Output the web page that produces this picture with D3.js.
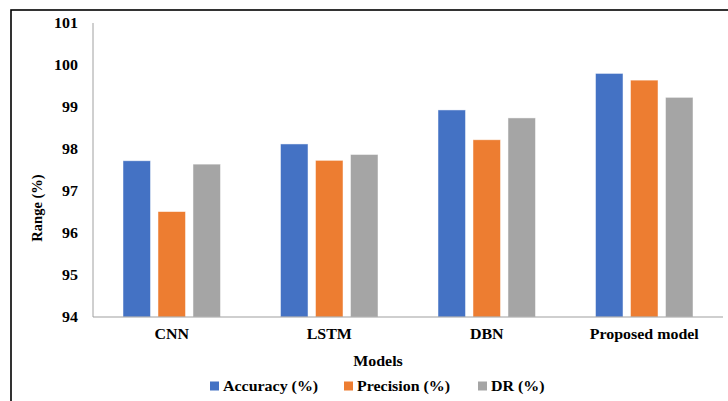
<!DOCTYPE html>
<html>
<head>
<meta charset="utf-8">
<script src="https://cdn.jsdelivr.net/npm/d3@7/dist/d3.min.js"></script>
<style>
  html, body { margin: 0; padding: 0; background: #fff; }
  svg { display: block; }
</style>
</head>
<body>
<svg id="chart" width="728" height="401"></svg>
<script>
// Model categories and metric series
const models = ["CNN", "LSTM", "DBN", "Proposed model"];
const seriesNames = ["Accuracy (%)", "Precision (%)", "DR (%)"];
const accuracy = [97.72, 98.12, 98.93, 99.80];
const precision = [96.51, 97.73, 98.22, 99.64];
const detectionRate = [97.64, 97.87, 98.74, 99.23];
const yTicks = [94, 95, 96, 97, 98, 99, 100, 101];
const colors = ["#4472C4", "#ED7D31", "#A5A5A5"];

const seriesValues = [accuracy, precision, detectionRate];
const rows = models.map((m, i) => ({
  model: m,
  values: seriesNames.map((s, j) => ({ series: s, value: seriesValues[j][i], color: colors[j] }))
}));

const FONT = "'Liberation Serif', 'Times New Roman', serif";
const svg = d3.select("#chart")
  .attr("font-family", FONT)
  .attr("font-weight", "bold");
const plot = { left: 93, right: 723, top: 23, bottom: 317 };
const stretch = 1.1; // horizontal text stretch

// outer frame
svg.append("rect")
  .attr("x", 11).attr("y", 10).attr("width", 740).attr("height", 420)
  .attr("fill", "none").attr("stroke", "#000").attr("stroke-width", 1.6);

const x0 = d3.scaleBand().domain(models).range([plot.left, plot.right]).paddingInner(0).paddingOuter(0);
const groupWidth = 97.5;
const x1 = d3.scaleBand().domain(seriesNames).range([0, groupWidth]).paddingInner(0.214).paddingOuter(0);
const y = d3.scaleLinear().domain([94, 101]).range([plot.bottom, plot.top]);

// bars
const groups = svg.append("g").selectAll("g").data(rows).join("g")
  .attr("transform", d => `translate(${x0(d.model) + (x0.bandwidth() - groupWidth) / 2},0)`);
groups.selectAll("rect").data(d => d.values).join("rect")
  .attr("x", d => x1(d.series))
  .attr("width", x1.bandwidth())
  .attr("y", d => y(d.value))
  .attr("height", d => y(94) - y(d.value))
  .attr("fill", d => d.color)
  .attr("stroke", "#fff").attr("stroke-opacity", 0.6).attr("stroke-width", 0.8);

// axis lines
svg.append("line").attr("x1", plot.left).attr("x2", plot.left)
  .attr("y1", y(101)).attr("y2", y(94)).attr("stroke", "#a0a0a0").attr("stroke-width", 1);
svg.append("line").attr("x1", plot.left).attr("x2", plot.right)
  .attr("y1", y(94)).attr("y2", y(94)).attr("stroke", "#a0a0a0").attr("stroke-width", 1.2);

function label(sel) {
  return sel.attr("font-family", FONT).attr("font-weight", "bold").attr("fill", "#000")
    .attr("font-size", 14.5).attr("dominant-baseline", "central");
}

// y tick labels
svg.append("g").selectAll("text").data(yTicks).join("text")
  .call(label)
  .attr("transform", d => `translate(78,${y(d)}) scale(${stretch},1)`)
  .attr("text-anchor", "end")
  .text(d => d);

// category labels
svg.append("g").selectAll("text").data(models).join("text")
  .call(label)
  .attr("transform", d => `translate(${x0(d) + x0.bandwidth() / 2},334) scale(${stretch},1)`)
  .attr("text-anchor", "middle")
  .text(d => d);

// axis titles
svg.append("text").call(label)
  .attr("transform", `translate(37,208) rotate(-90)`)
  .attr("text-anchor", "middle")
  .text("Range (%)");
svg.append("text").call(label)
  .attr("transform", `translate(${(plot.left + plot.right) / 2 - 30},361) scale(${stretch},1)`)
  .attr("text-anchor", "middle")
  .text("Models");

// legend
const legendX = [210, 344, 478];
const legend = svg.append("g").selectAll("g").data(seriesNames).join("g")
  .attr("transform", (d, i) => `translate(${legendX[i]},386)`);
legend.append("rect").attr("x", 0).attr("y", -4.5).attr("width", 9).attr("height", 9)
  .attr("fill", (d, i) => colors[i]);
legend.append("text").call(label)
  .attr("transform", `translate(13,0) scale(${stretch},1)`)
  .text(d => d);
</script>
</body>
</html>
